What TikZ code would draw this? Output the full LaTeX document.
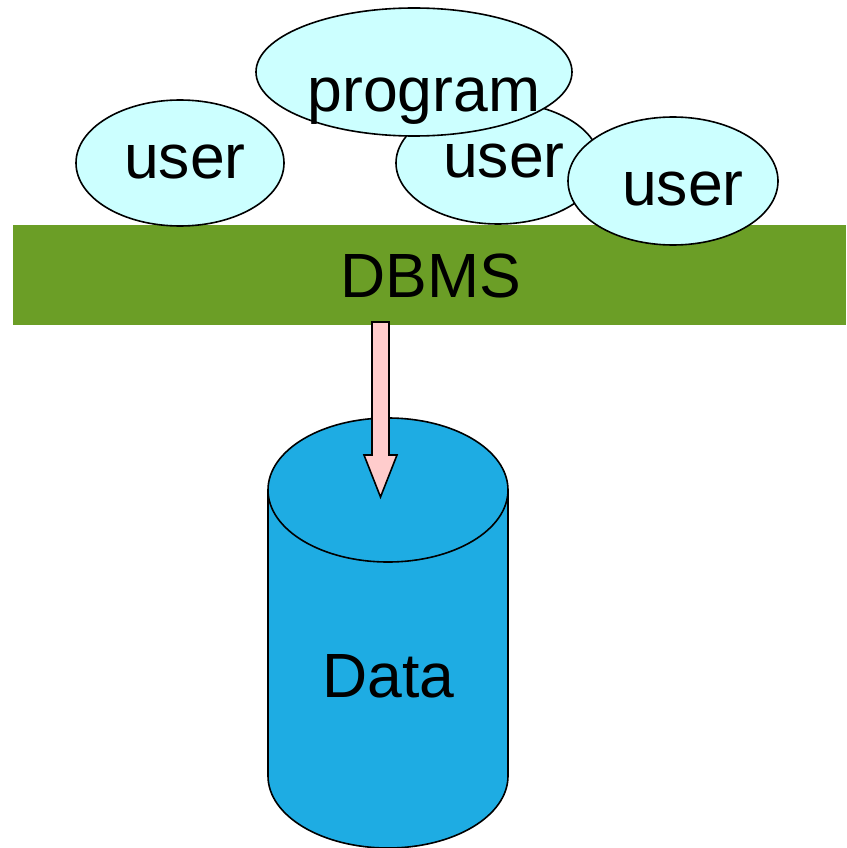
\documentclass[tikz,border=0pt]{standalone}
\usepackage{fontspec}
\setmainfont{Liberation Sans}
\usetikzlibrary{shapes.geometric, calc}

\definecolor{userfill}{HTML}{CCFFFF}
\definecolor{dbmsgreen}{HTML}{6B9E26}
\definecolor{datablue}{HTML}{1EACE3}
\definecolor{arrowpink}{HTML}{FFCCCC}

\begin{document}
\begin{tikzpicture}[
    x=1pt, y=-1pt,
    bubble/.style={
        ellipse, draw, line width=1.6pt, fill=userfill, inner sep=0pt
    },
    word/.style={font=\fontsize{62.5}{70}\selectfont, inner sep=0pt, anchor=base},
    bar/.style={fill=dbmsgreen, minimum width=833pt, minimum height=100pt, inner sep=0pt},
    cyl/.style={fill=datablue, line width=1.6pt},
    bigarrow/.style={draw, fill=arrowpink, line width=1.6pt, line join=miter}
]
\useasboundingbox (0,0) rectangle (846,848);

% -- DBMS layer --
\node[bar] (dbms) at (429.5,275) {};
\node[word] (dbmstext) at (431,297) {DBMS};

% -- users and program on top --
\node[bubble, minimum width=208pt, minimum height=126pt] (user1) at (180,163) {};
\node[word] at (185,178) {user};

\node[bubble, minimum width=204pt, minimum height=122pt] (user2) at (498,163) {};
\node[word] at (504,177) {user};

\node[bubble, minimum width=316pt, minimum height=128pt] (prog) at (414,72) {};
\node[word] at (424,112) {program};

\node[bubble, minimum width=210pt, minimum height=128pt] (user3) at (673,181) {};
\node[word] at (683,205) {user};

% -- data store (cylinder) --
\fill[cyl] (388,776) ellipse[x radius=120, y radius=72];
\draw[cyl] (388,776) ellipse[x radius=120, y radius=72];
\fill[datablue] (268,490) rectangle (508,776);
\draw[line width=1.6pt] (268,490) -- (268,776);
\draw[line width=1.6pt] (508,490) -- (508,776);
\filldraw[cyl, draw=black] (388,490) ellipse[x radius=120, y radius=72];
\node[word] (data) at (388.5,697) {Data};

% -- arrow from DBMS down to the data --
\coordinate (arrtail) at (380.5,322);
\coordinate (arrhead) at (380.5,497);
\draw[bigarrow] ($(arrtail)+(-8.5,0)$) -- ($(arrhead)+(-8.5,-42)$)
    -- ($(arrhead)+(-16.5,-42)$) -- (arrhead) -- ($(arrhead)+(16.5,-42)$)
    -- ($(arrhead)+(8.5,-42)$) -- ($(arrtail)+(8.5,0)$) -- cycle;

\end{tikzpicture}
\end{document}
